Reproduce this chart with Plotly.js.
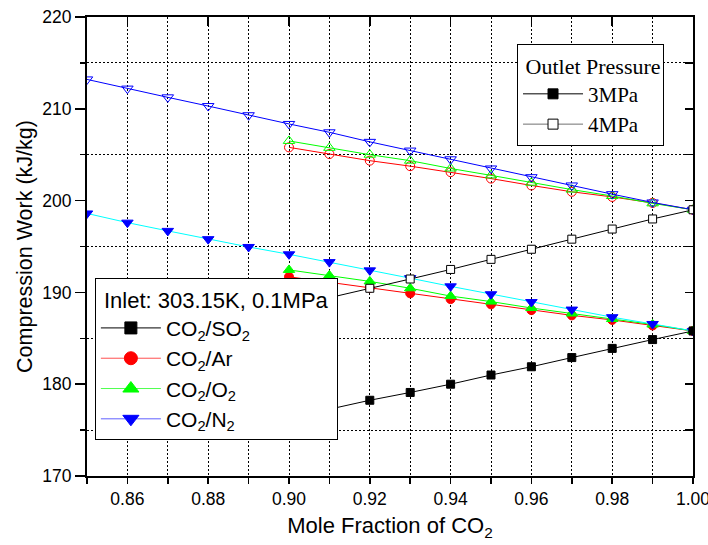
<!DOCTYPE html>
<html>
<head>
<meta charset="utf-8">
<script src="https://cdn.plot.ly/plotly-3.0.1.min.js"></script>
<style>
  html, body { margin: 0; padding: 0; background: #fff; }
  #chart { width: 708px; height: 545px; }
</style>
</head>
<body>
<div id="chart"></div>
<script>
// Mole fraction of CO2 in the feed
const xN2 = [0.85, 0.86, 0.87, 0.88, 0.89, 0.90, 0.91, 0.92, 0.93, 0.94, 0.95, 0.96, 0.97, 0.98, 0.99, 1.00];
const xMix = [0.90, 0.91, 0.92, 0.93, 0.94, 0.95, 0.96, 0.97, 0.98, 0.99, 1.00];

// Compression work (kJ/kg), outlet 3 MPa
const so2_3MPa = [176.3, 177.3, 178.25, 179.1, 180.0, 181.0, 181.9, 182.9, 183.9, 184.86, 185.8];
const ar_3MPa  = [191.7, 191.1, 190.5, 189.9, 189.27, 188.7, 188.07, 187.5, 187.0, 186.4, 185.8];
const o2_3MPa  = [192.45, 191.85, 191.2, 190.45, 189.6, 189.0, 188.3, 187.7, 187.1, 186.5, 185.8];
const n2_3MPa  = [198.6, 197.6, 196.7, 195.8, 194.95, 194.15, 193.3, 192.4, 191.55, 190.66, 189.8, 188.95, 188.13, 187.3, 186.56, 185.8];

// Compression work (kJ/kg), outlet 4 MPa
const so2_4MPa = [188.4, 189.4, 190.45, 191.46, 192.5, 193.6, 194.7, 195.8, 196.9, 198.0, 199.0];
const ar_4MPa  = [205.8, 205.07, 204.35, 203.75, 203.1, 202.4, 201.65, 200.96, 200.4, 199.75, 199.0];
const o2_4MPa  = [206.5, 205.75, 205.0, 204.35, 203.5, 202.75, 201.95, 201.2, 200.5, 199.7, 199.0];
const n2_4MPa  = [213.2, 212.2, 211.25, 210.3, 209.3, 208.35, 207.44, 206.4, 205.45, 204.5, 203.5, 202.55, 201.65, 200.7, 199.8, 199.0];

// Axis tick labels
const xTickVals = [0.86, 0.88, 0.90, 0.92, 0.94, 0.96, 0.98, 1.00];
const xTickText = ['0.86', '0.88', '0.90', '0.92', '0.94', '0.96', '0.98', '1.00'];

// Legend labels
const mixtureNames = ['CO<sub>2</sub>/SO<sub>2</sub>', 'CO<sub>2</sub>/Ar', 'CO<sub>2</sub>/O<sub>2</sub>', 'CO<sub>2</sub>/N<sub>2</sub>'];
const pressureNames = ['3MPa', '4MPa'];

const SANS = 'Liberation Sans, Arial, sans-serif';
const SERIF = 'Liberation Serif, Times New Roman, serif';
const NBSP = '\u00a0';

function series(x, y, lineColor, symbol, markerColor, fill, size) {
  return {
    x: x, y: y, type: 'scatter', mode: 'lines+markers', showlegend: false,
    hoverinfo: 'x+y',
    line: { color: lineColor, width: 1 },
    marker: {
      symbol: symbol, size: size,
      color: fill,
      line: { color: markerColor, width: 1 }
    }
  };
}

const traces = [
  // 3 MPa, filled markers
  series(xMix, ar_3MPa, '#ff0000', 'circle', '#ff0000', '#ff0000', 9),
  series(xMix, o2_3MPa, '#00ff00', 'triangle-up', '#00ff00', '#00ff00', 10),
  series(xN2, n2_3MPa, '#00ffff', 'triangle-down', '#0000ff', '#0000ff', 10),
  series(xMix, so2_3MPa, '#000000', 'square', '#000000', '#000000', 8),
  // 4 MPa, hollow markers
  series(xMix, ar_4MPa, '#ff0000', 'circle-open', '#ff0000', '#ff0000', 9),
  series(xMix, o2_4MPa, '#00ff00', 'triangle-up-open', '#00ff00', '#00ff00', 10),
  series(xN2, n2_4MPa, '#0000ff', 'triangle-down-open', '#0000ff', '#0000ff', 10),
  series(xMix, so2_4MPa, '#000000', 'square', '#000000', '#ffffff', 8)
];

// Legend entries for the mixtures (inlet legend)
const mixStyles = [
  { line: '#000000', symbol: 'square', color: '#000000', size: 12 },
  { line: '#ff5050', symbol: 'circle', color: '#ff0000', size: 13 },
  { line: '#50ff50', symbol: 'triangle-up', color: '#00ff00', size: 14 },
  { line: '#6060ff', symbol: 'triangle-down', color: '#0000ff', size: 14 }
];
mixtureNames.forEach(function (name, i) {
  const s = mixStyles[i];
  traces.push({
    x: [null], y: [null], type: 'scatter', mode: 'lines+markers',
    name: name, legend: 'legend',
    line: { color: s.line, width: 1 },
    marker: { symbol: s.symbol, size: s.size, color: s.color, line: { color: s.color, width: 1 } }
  });
});

// Legend entries for the outlet pressures
const pStyles = [
  { line: '#000000', fill: '#000000' },
  { line: '#707070', fill: '#ffffff' }
];
pressureNames.forEach(function (name, i) {
  traces.push({
    x: [null], y: [null], type: 'scatter', mode: 'lines+markers',
    name: name, legend: 'legend2',
    line: { color: pStyles[i].line, width: 1 },
    marker: { symbol: 'square', size: 10, color: pStyles[i].fill, line: { color: '#000000', width: 1 } }
  });
});

// Empty trace so the mirrored top/right tick axes get drawn
traces.push({ x: [null], y: [null], xaxis: 'x2', yaxis: 'y2', type: 'scatter', mode: 'markers', showlegend: false, hoverinfo: 'skip' });

const xRange = [0.85, 1.0];
const yRange = [170, 220];
const gridStyle = { showgrid: true, gridcolor: '#000000', gridwidth: 1, griddash: '2px,2px' };

const layout = {
  width: 708, height: 545,
  margin: { l: 87, r: 15, t: 17, b: 69 },
  paper_bgcolor: '#ffffff', plot_bgcolor: '#ffffff',
  font: { family: SANS, color: '#000000', size: 17.5 },
  xaxis: {
    range: xRange, tickmode: 'array', tickvals: xTickVals, ticktext: xTickText,
    ticklabeloverflow: 'allow',
    ticks: 'outside', ticklen: 6, tickwidth: 1.5, tickcolor: '#000',
    showline: true, linewidth: 2, linecolor: '#000', mirror: true,
    showgrid: false, zeroline: false,
    tickfont: { family: SANS, size: 17.5, color: '#000' },
    minor: Object.assign({ tick0: 0.85, dtick: 0.01, ticks: 'outside', ticklen: 6, tickwidth: 1.5, tickcolor: '#000' }, gridStyle),
    title: { text: 'Mole Fraction of CO<sub>2</sub>' + NBSP + NBSP + NBSP, font: { family: SANS, size: 22, color: '#000' }, standoff: 10 }
  },
  yaxis: {
    range: yRange, dtick: 10,
    ticks: 'outside', ticklen: 10, tickwidth: 1.5, tickcolor: '#000',
    showline: true, linewidth: 2, linecolor: '#000', mirror: true,
    showgrid: false, zeroline: false,
    tickfont: { family: SANS, size: 17.5, color: '#000' },
    minor: Object.assign({ dtick: 5, ticks: 'outside', ticklen: 5, tickwidth: 1.5, tickcolor: '#000' }, gridStyle),
    title: { text: 'Compression Work (kJ/kg)', font: { family: SANS, size: 21.5, color: '#000' }, standoff: 4 }
  },
  xaxis2: {
    overlaying: 'x', side: 'top', anchor: 'y', range: xRange,
    tickmode: 'array', tickvals: xTickVals, ticks: 'inside', ticklen: 9, tickwidth: 1.5, tickcolor: '#000',
    showticklabels: false, showline: false, showgrid: false, zeroline: false
  },
  yaxis2: {
    overlaying: 'y', side: 'right', anchor: 'x', range: yRange,
    dtick: 5, ticks: 'inside', ticklen: 8, tickwidth: 1.5, tickcolor: '#000',
    showticklabels: false, showline: false, showgrid: false, zeroline: false
  },
  legend: {
    x: 0.013, xanchor: 'left', y: 0.431, yanchor: 'top',
    bgcolor: '#ffffff', bordercolor: '#000000', borderwidth: 1,
    font: { family: SANS, size: 21, color: '#000' },
    title: { text: NBSP + 'Inlet: 303.15K, 0.1MPa' + NBSP, font: { family: SANS, size: 22, color: '#000' } },
    itemwidth: 60, traceorder: 'normal'
  },
  legend2: {
    x: 0.7096, xanchor: 'left', y: 0.941, yanchor: 'top',
    bgcolor: '#ffffff', bordercolor: '#000000', borderwidth: 1,
    font: { family: SERIF, size: 21, color: '#000' },
    title: { text: NBSP + 'Outlet Pressure', font: { family: SERIF, size: 22, color: '#000' } },
    itemwidth: 60, traceorder: 'normal'
  },
  showlegend: true
};

Plotly.newPlot('chart', traces, layout, { staticPlot: true, displayModeBar: false });
</script>
</body>
</html>
